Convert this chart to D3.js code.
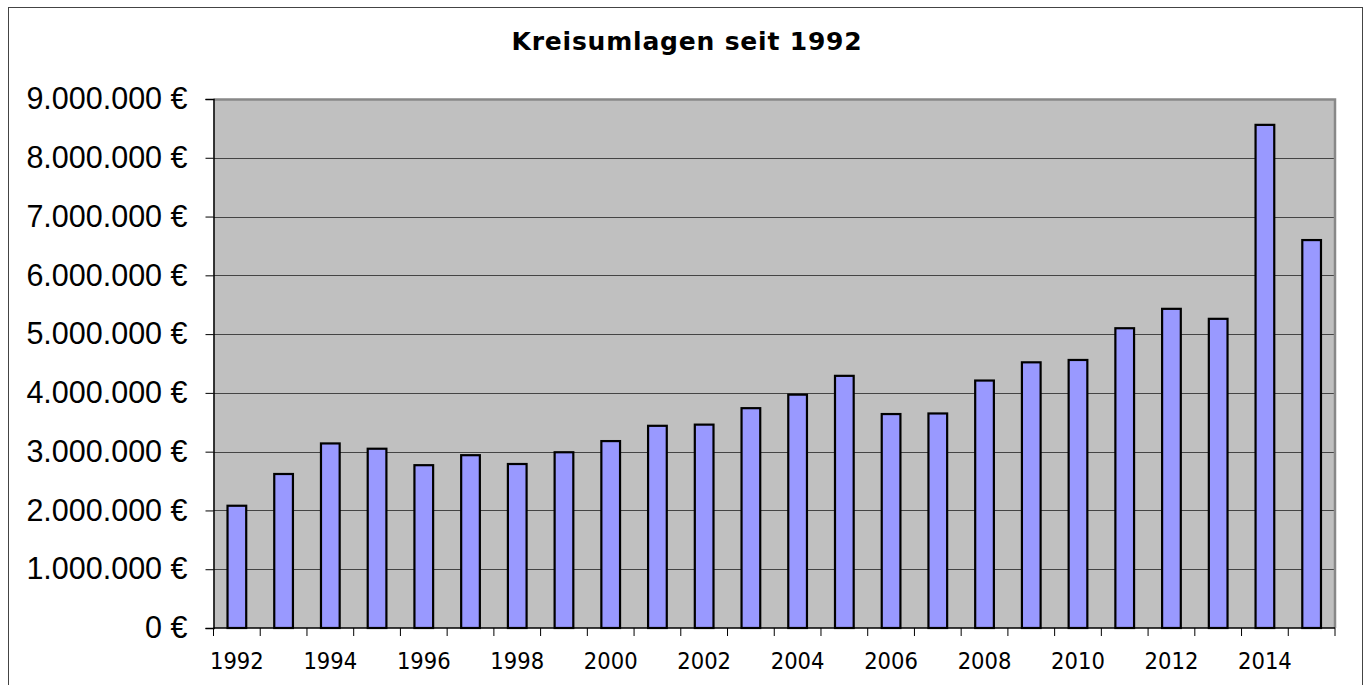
<!DOCTYPE html>
<html>
<head>
<meta charset="utf-8">
<script src="https://cdn.jsdelivr.net/npm/d3@7"></script>
<style>
  body { margin: 0; background: #fff; }
</style>
</head>
<body>
<div id="chart"></div>
<script>
// Kreisumlagen per year (euro)
var years = ["1992","1993","1994","1995","1996","1997","1998","1999","2000","2001","2002","2003",
             "2004","2005","2006","2007","2008","2009","2010","2011","2012","2013","2014","2015"];
var umlagen = [2080000, 2620000, 3140000, 3050000, 2770000, 2940000, 2790000, 2990000, 3180000, 3440000, 3460000, 3740000,
               3970000, 4290000, 3640000, 3650000, 4210000, 4520000, 4560000, 5100000, 5430000, 5260000, 8560000, 6600000];
var yTicks = [0, 1000000, 2000000, 3000000, 4000000, 5000000, 6000000, 7000000, 8000000, 9000000];
var title = "Kreisumlagen seit 1992";

var W = 1366, H = 685;
var margin = { top: 99, right: 31, bottom: 57, left: 213.5 };
var width = W - margin.left - margin.right,
    height = H - margin.top - margin.bottom;

var svg = d3.select("#chart")
    .append("svg")
    .attr("width", W)
    .attr("height", H);

// outer chart frame
svg.append("rect")
    .attr("x", 8.5).attr("y", 7.5)
    .attr("width", 1354).attr("height", 690)
    .attr("fill", "#fff")
    .attr("stroke", "#444")
    .attr("stroke-width", 1);

svg.append("text")
    .attr("x", 687)
    .attr("y", 50)
    .attr("text-anchor", "middle")
    .attr("font-family", "'DejaVu Sans', sans-serif")
    .attr("font-weight", "bold")
    .attr("font-size", "25px")
    .attr("letter-spacing", "0.8px")
    .attr("fill", "#000")
    .text(title);

var g = svg.append("g")
    .attr("transform", "translate(" + margin.left + "," + margin.top + ")");

var x = d3.scaleBand()
    .domain(years)
    .range([0, width])
    .paddingInner(0.6)
    .paddingOuter(0.3);

var y = d3.scaleLinear()
    .domain([0, 9000000])
    .range([height, 0]);

// plot area background
g.append("rect")
    .attr("width", width)
    .attr("height", height)
    .attr("fill", "#c0c0c0");

// grid lines
g.selectAll(".grid")
    .data(yTicks.slice(1))
    .enter().append("line")
    .attr("x1", 0).attr("x2", width)
    .attr("y1", function (d) { return Math.round(y(d)) + 0.5; })
    .attr("y2", function (d) { return Math.round(y(d)) + 0.5; })
    .attr("stroke", "#444")
    .attr("stroke-width", 1.2);

// plot border top/right
g.append("path")
    .attr("d", "M0,0.5H" + width + "V" + height)
    .attr("fill", "none")
    .attr("stroke", "#888")
    .attr("stroke-width", 2.5);

// bars
g.selectAll(".bar")
    .data(umlagen)
    .enter().append("rect")
    .attr("class", "bar")
    .attr("x", function (d, i) { return x(years[i]); })
    .attr("y", function (d) { return y(d); })
    .attr("width", x.bandwidth())
    .attr("height", function (d) { return height - y(d); })
    .attr("fill", "#9999ff")
    .attr("stroke", "#000")
    .attr("stroke-width", 2.2);

// y axis
var fmt = function (d) {
    return d3.format(",")(d).replace(/,/g, ".") + " €";
};
var yAxis = g.append("g")
    .call(d3.axisLeft(y).tickValues(yTicks).tickSize(8).tickPadding(18).tickFormat(fmt));
yAxis.select(".domain").attr("stroke", "#000").attr("stroke-width", 1.5);
yAxis.selectAll(".tick line").attr("stroke", "#000");
yAxis.selectAll("text")
    .attr("font-family", "'Liberation Sans', Arial, sans-serif")
    .attr("font-size", "30.5px")
    .attr("fill", "#000");

// x axis: ticks between categories, labels every second year
var xAxis = g.append("g")
    .attr("transform", "translate(0," + height + ")");
xAxis.append("line")
    .attr("x1", 0).attr("x2", width)
    .attr("stroke", "#000").attr("stroke-width", 1.5);
var step = x.step();
var bounds = d3.range(years.length + 1);
xAxis.selectAll(".xt")
    .data(bounds)
    .enter().append("line")
    .attr("x1", function (d) { return x(years[0]) - x.paddingOuter() * step + d * step; })
    .attr("x2", function (d) { return x(years[0]) - x.paddingOuter() * step + d * step; })
    .attr("y1", 0).attr("y2", 8)
    .attr("stroke", "#000");
xAxis.selectAll(".xl")
    .data(years.filter(function (d, i) { return i % 2 === 0; }))
    .enter().append("text")
    .attr("x", function (d) { return x(d) + x.bandwidth() / 2; })
    .attr("y", 41)
    .attr("text-anchor", "middle")
    .attr("font-family", "'DejaVu Sans Condensed', 'DejaVu Sans', sans-serif")
    .attr("font-size", "23.5px")
    .attr("fill", "#000")
    .text(function (d) { return d; });
</script>
</body>
</html>
